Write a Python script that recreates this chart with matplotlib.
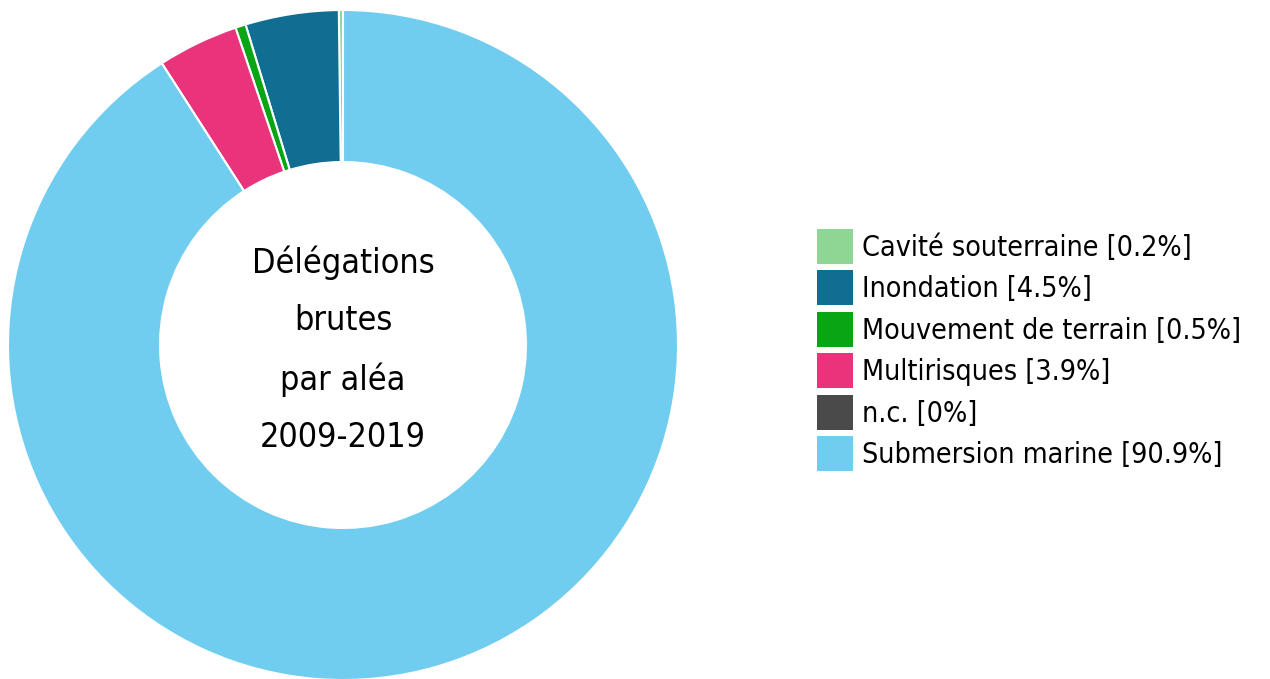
import matplotlib
matplotlib.use("Agg")
import matplotlib.pyplot as plt
from matplotlib.patches import Patch

# données
labels = ["Cavité souterraine", "Inondation", "Mouvement de terrain",
          "Multirisques", "n.c.", "Submersion marine"]
pct = [0.2, 4.5, 0.5, 3.9, 0, 90.9]
colors = ["#8fd694", "#0f6e91", "#0aa515", "#e9337b", "#4a4a4a", "#70cdef"]
center_text = "Délégations\nbrutes\npar aléa\n2009-2019"

# police étroite, proche de l'original
plt.rcParams['font.family'] = ['DejaVu Sans']
plt.rcParams['font.stretch'] = 'condensed'

W, H = 1270, 679
fig = plt.figure(figsize=(W / 100, H / 100), dpi=100)
ax = fig.add_axes([0, 0, 1, 1])

cx, cy, r = 343, H - 345, 335
ax.pie(pct, colors=colors, startangle=90, counterclock=True,
       center=(cx, cy), radius=r,
       wedgeprops=dict(width=r - 183, edgecolor="white", linewidth=1.5))
ax.set_xlim(0, W)
ax.set_ylim(0, H)
ax.set_aspect("auto")
ax.axis("off")

ax.text(cx, cy - 5, center_text, ha="center", va="center",
        fontsize=24.5, linespacing=1.93, color="black")

handles = [Patch(facecolor=c, edgecolor="none") for c in colors]
leg_labels = [f"{l} [{p:g}%]" for l, p in zip(labels, pct)]
fig.legend(handles, leg_labels, loc="upper left",
           bbox_to_anchor=(817 / W, 1 - 229 / H),
           frameon=False, fontsize=20.5, borderpad=0, borderaxespad=0,
           handlelength=1.26, handleheight=1.51, handletextpad=0.32,
           labelspacing=0.23)

fig.savefig("out.png", dpi=100)
